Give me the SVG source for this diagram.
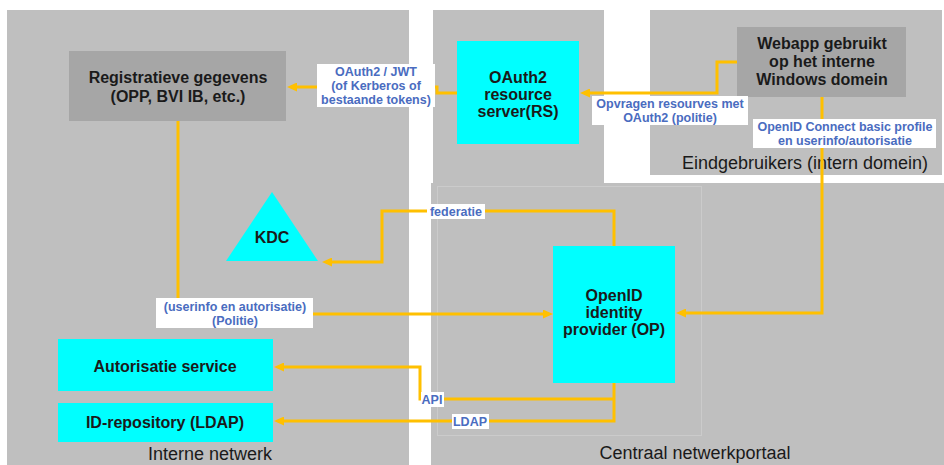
<svg xmlns="http://www.w3.org/2000/svg" width="944" height="465" viewBox="0 0 944 465">
  <defs>
    <marker id="arrow" markerUnits="userSpaceOnUse" markerWidth="10" markerHeight="9" refX="3" refY="4.5" orient="auto">
      <path d="M0,0 L10,4.5 L0,9 z" fill="#ffc000"/>
    </marker>
    <style>
      .zone { fill: #bfbfbf; }
      .inner { fill: none; stroke: #cbcbcb; stroke-width: 1; }
      .grey { fill: #a6a6a6; }
      .cyan { fill: #00ffff; }
      .node-text { font-family: "Liberation Sans", Arial, sans-serif; font-weight: bold; font-size: 16px; fill: #1a1a1a; text-anchor: middle; }
      .zone-text { font-family: "Liberation Sans", Arial, sans-serif; font-size: 18px; fill: #1a1a1a; text-anchor: middle; }
      .conn { fill: none; stroke: #ffc000; stroke-width: 3; }
      .lbl-box { fill: #ffffff; }
      .lbl { font-family: "Liberation Sans", Arial, sans-serif; font-weight: bold; font-size: 12.5px; fill: #4a6cc0; text-anchor: middle; }
    </style>
  </defs>

  <rect width="944" height="465" fill="#ffffff"/>

  <!-- network zones -->
  <g id="zones">
    <rect class="zone" x="7" y="10" width="402" height="455"/>
    <rect class="zone" x="433" y="10" width="171" height="173"/>
    <rect class="zone" x="650" y="10" width="292" height="165"/>
    <rect class="zone" x="431" y="183" width="513" height="282"/>
    <rect class="inner" x="437.5" y="186.5" width="264" height="249"/>
    <text class="zone-text" x="210" y="460">Interne netwerk</text>
    <text class="zone-text" x="805" y="169">Eindgebruikers (intern domein)</text>
    <text class="zone-text" x="695" y="459">Centraal netwerkportaal</text>
  </g>

  <!-- nodes -->
  <g id="registratieve">
    <rect class="grey" x="69" y="51" width="217" height="70"/>
    <text class="node-text" x="178" y="83">Registratieve gegevens</text>
    <text class="node-text" x="178" y="102">(OPP, BVI IB, etc.)</text>
  </g>
  <g id="resource-server">
    <rect class="cyan" x="457" y="41" width="122" height="103"/>
    <text class="node-text" x="518" y="83">OAuth2</text>
    <text class="node-text" x="518" y="100">resource</text>
    <text class="node-text" x="518" y="117">server(RS)</text>
  </g>
  <g id="webapp">
    <rect class="grey" x="737" y="27" width="169" height="70"/>
    <text class="node-text" x="822" y="49">Webapp gebruikt</text>
    <text class="node-text" x="822" y="67">op het interne</text>
    <text class="node-text" x="822" y="85">Windows domein</text>
  </g>
  <g id="kdc">
    <polygon class="cyan" points="272,192 318,261 226,261"/>
    <text class="node-text" x="272" y="243">KDC</text>
  </g>
  <g id="openid-provider">
    <rect class="cyan" x="553" y="246" width="122" height="137"/>
    <text class="node-text" x="614" y="301">OpenID</text>
    <text class="node-text" x="614" y="318">identity</text>
    <text class="node-text" x="614" y="335">provider (OP)</text>
  </g>
  <g id="autorisatie-service">
    <rect class="cyan" x="58" y="339" width="215" height="52"/>
    <text class="node-text" x="165" y="372">Autorisatie service</text>
  </g>
  <g id="id-repository">
    <rect class="cyan" x="58" y="403" width="215" height="39"/>
    <text class="node-text" x="165" y="428">ID-repository (LDAP)</text>
  </g>

  <!-- connectors -->
  <g id="connectors">
    <path class="conn" d="M457,93 H437 V87 H294" marker-end="url(#arrow)"/>
    <path class="conn" d="M737,62 H717 V93 H587" marker-end="url(#arrow)"/>
    <path class="conn" d="M822,97 V313 H683" marker-end="url(#arrow)"/>
    <path class="conn" d="M614,246 V211 H382 V262 H329" marker-end="url(#arrow)"/>
    <path class="conn" d="M178,121 V314 H546" marker-end="url(#arrow)"/>
    <path class="conn" d="M614,399 H420 V367 H281" marker-end="url(#arrow)"/>
    <path class="conn" d="M614,383 V421 H281" marker-end="url(#arrow)"/>

    <rect class="lbl-box" x="317" y="64" width="118" height="43"/>
    <text class="lbl" x="376" y="76">OAuth2 / JWT</text>
    <text class="lbl" x="376" y="90">(of Kerberos of</text>
    <text class="lbl" x="376" y="104">bestaande tokens)</text>

    <rect class="lbl-box" x="592" y="96" width="156" height="29"/>
    <text class="lbl" x="670" y="108">Opvragen resourves met</text>
    <text class="lbl" x="670" y="122">OAuth2 (politie)</text>

    <rect class="lbl-box" x="753" y="119" width="183" height="29"/>
    <text class="lbl" x="845" y="131">OpenID Connect basic profile</text>
    <text class="lbl" x="845" y="145">en userinfo/autorisatie</text>

    <rect class="lbl-box" x="427" y="204" width="58" height="15"/>
    <text class="lbl" x="456" y="215.5">federatie</text>

    <rect class="lbl-box" x="156" y="298" width="157" height="30"/>
    <text class="lbl" x="235" y="311">(userinfo en autorisatie)</text>
    <text class="lbl" x="235" y="325">(Politie)</text>

    <rect class="lbl-box" x="421" y="392" width="23" height="15"/>
    <text class="lbl" x="432" y="404">API</text>

    <rect class="lbl-box" x="452" y="414" width="37" height="15"/>
    <text class="lbl" x="470" y="426">LDAP</text>
  </g>
</svg>
